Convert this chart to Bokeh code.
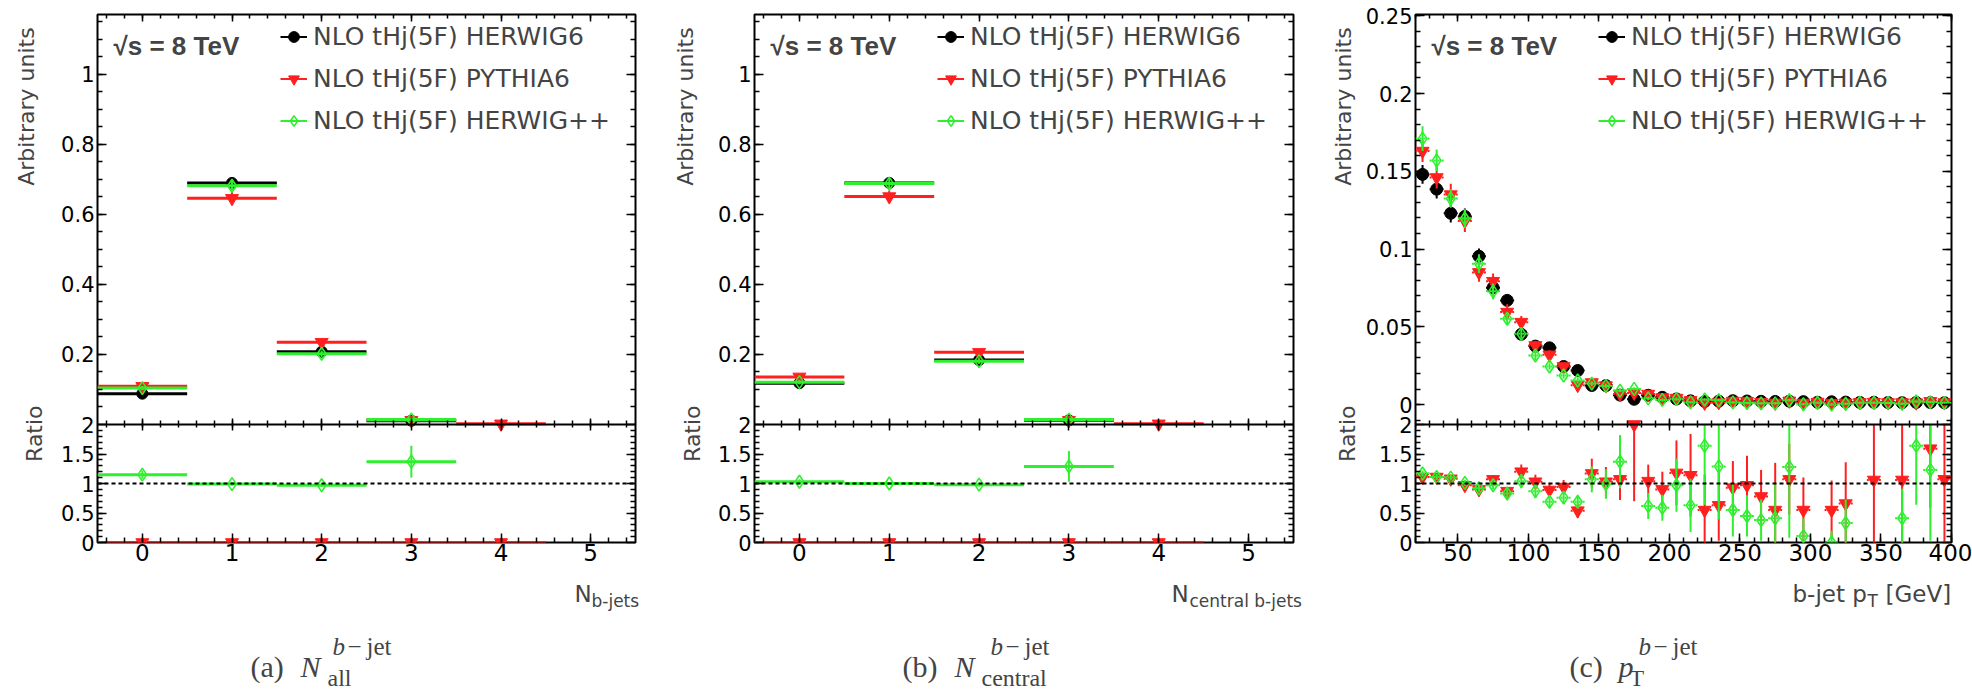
import numpy as np
from bokeh.plotting import figure
from bokeh.models import (Range1d, LinearAxis, FixedTicker, Span, Label, Legend,
                          LegendItem, ColumnDataSource, CustomJSTickFormatter)
from bokeh.layouts import row, column
from bokeh.embed import file_html
from bokeh.resources import INLINE

NAN = float("nan")

# ---------------- data ----------------
generators = ["NLO tHj(5F) HERWIG6", "NLO tHj(5F) PYTHIA6", "NLO tHj(5F) HERWIG++"]
energy_text = "√s = 8 TeV"

# (a) number of b-jets
nbjet_bins = [0, 1, 2, 3, 4, 5]
a_herwig6 = [0.088, 0.690, 0.208, 0.011, NAN, NAN]
a_herwig6_err = [0.006, 0.016, 0.009, 0.003, NAN, NAN]
a_pythia6 = [0.109, 0.646, 0.235, 0.012, 0.002, NAN]
a_pythia6_err = [0.007, 0.017, 0.010, 0.003, 0.001, NAN]
a_herwigpp = [0.104, 0.682, 0.202, 0.014, NAN, NAN]
a_herwigpp_err = [0.006, 0.016, 0.009, 0.003, NAN, NAN]
a_ratio_pythia6 = [0.0, 0.0, 0.0, 0.0, 0.0, NAN]
a_ratio_pythia6_err = [0.0, 0.0, 0.0, 0.0, 0.0, NAN]
a_ratio_herwigpp = [1.15, 0.99, 0.97, 1.37, NAN, NAN]
a_ratio_herwigpp_err = [0.07, 0.03, 0.03, 0.27, NAN, NAN]

# (b) number of central b-jets
b_herwig6 = [0.118, 0.690, 0.184, 0.012, NAN, NAN]
b_herwig6_err = [0.006, 0.016, 0.008, 0.003, NAN, NAN]
b_pythia6 = [0.136, 0.651, 0.206, 0.012, 0.002, NAN]
b_pythia6_err = [0.007, 0.017, 0.009, 0.003, 0.001, NAN]
b_herwigpp = [0.121, 0.688, 0.181, 0.014, NAN, NAN]
b_herwigpp_err = [0.006, 0.016, 0.008, 0.003, NAN, NAN]
b_ratio_pythia6 = [0.0, 0.0, 0.0, 0.0, 0.0, NAN]
b_ratio_pythia6_err = [0.0, 0.0, 0.0, 0.0, 0.0, NAN]
b_ratio_herwigpp = [1.03, 1.00, 0.98, 1.29, NAN, NAN]
b_ratio_herwigpp_err = [0.04, 0.02, 0.03, 0.26, NAN, NAN]

# (c) b-jet pT
pt_bins = [25, 35, 45, 55, 65, 75, 85, 95, 105, 115, 125, 135, 145, 155, 165, 175, 185, 195, 205,
           215, 225, 235, 245, 255, 265, 275, 285, 295, 305, 315, 325, 335, 345, 355, 365, 375, 385, 395]
c_herwig6 = [0.148, 0.1385, 0.123, 0.121, 0.0954, 0.0752, 0.067, 0.0452, 0.0376, 0.0365, 0.0245, 0.0219,
             0.0123, 0.0122, 0.0061, 0.0034, 0.0060, 0.0047, 0.0036,
             0.0024, 0.0020, 0.0022, 0.0025, 0.0023, 0.0021, 0.0020, 0.0022, 0.0019, 0.0015, 0.0018,
             0.0016, 0.0014, 0.0015, 0.0013, 0.0012, 0.0014, 0.0013, 0.0012]
c_herwig6_err = [0.006, 0.006, 0.006, 0.005, 0.005, 0.004, 0.004, 0.003, 0.003, 0.003, 0.002, 0.002,
                 0.0015, 0.0015, 0.001, 0.001, 0.001, 0.001, 0.001] + [0.0008] * 19
c_pythia6 = [0.163, 0.146, 0.135, 0.118, 0.085, 0.0793, 0.0595, 0.053, 0.038, 0.032, 0.0245, 0.0125,
             0.0142, 0.0122, 0.0068, 0.0075, 0.0068, 0.0045, 0.0042,
             0.0027, 0.0011, 0.0014, 0.0023, 0.0022, 0.0016, 0.0011, 0.0024, 0.0010, 0.0016, 0.0010,
             0.0011, 0.0014, 0.0016, 0.0013, 0.0013, 0.0012, 0.0021, 0.0013]
c_pythia6_err = [0.007, 0.007, 0.007, 0.007, 0.006, 0.005, 0.005, 0.004, 0.003, 0.003, 0.002, 0.002,
                 0.0015, 0.0015, 0.001, 0.001, 0.001, 0.001, 0.001] + [0.0008] * 19
c_herwigpp = [0.171, 0.157, 0.1325, 0.1196, 0.0906, 0.0728, 0.0552, 0.0455, 0.0316, 0.0245, 0.0187, 0.0155,
              0.0135, 0.0120, 0.0090, 0.0101, 0.0040, 0.0030, 0.0035,
              0.0015, 0.0033, 0.0028, 0.0014, 0.0010, 0.0008, 0.0008, 0.0028, 0.0002, 0.0012, 0.0000,
              0.0005, 0.0012, 0.0012, 0.0011, 0.0005, 0.0020, 0.0016, 0.0011]
c_herwigpp_err = [0.008, 0.007, 0.006, 0.006, 0.006, 0.005, 0.004, 0.003, 0.003, 0.002, 0.002, 0.002,
                  0.0015, 0.0015, 0.001, 0.001, 0.001, 0.001, 0.001] + [0.0008] * 19
c_ratio_pythia6 = [1.11, 1.11, 1.08, 0.97, 0.90, 1.07, 0.87, 1.20, 1.03, 0.89, 0.94, 0.54, 1.17, 1.03,
                   1.07, 2.00, 1.04, 0.90, 1.18,
                   1.14, 0.55, 0.63, 0.93, 0.97, 0.78, 0.55, 1.07, 0.55, NAN, 0.55, 0.66, NAN, 1.06,
                   NAN, 1.06, NAN, 1.59, 1.07]
c_ratio_pythia6_err = [0.05, 0.05, 0.05, 0.05, 0.06, 0.07, 0.07, 0.12, 0.12, 0.12, 0.12, 0.12, 0.25,
                       0.25, 0.35, 1.30, 0.28, 0.30, 0.55,
                       0.70, 0.60, 0.60, 0.45, 0.50, 0.45, 0.80, 0.60, 0.55, NAN, 0.50, 0.70, NAN,
                       1.20, NAN, 1.20, NAN, 1.00, 1.20]
c_ratio_herwigpp = [1.17, 1.11, 1.10, 1.01, 0.92, 0.97, 0.83, 1.04, 0.87, 0.69, 0.76, 0.69, 1.07, 0.99,
                    1.37, NAN, 0.62, 0.59, 0.97,
                    0.63, 1.64, 1.29, 0.55, 0.45, 0.38, 0.41, 1.28, 0.11, NAN, 0.00, 0.33, NAN, NAN,
                    NAN, 0.41, 1.64, 1.23, NAN]
c_ratio_herwigpp_err = [0.05, 0.05, 0.05, 0.05, 0.06, 0.07, 0.08, 0.12, 0.12, 0.10, 0.10, 0.10, 0.22,
                        0.25, 0.45, NAN, 0.22, 0.22, 0.45,
                        0.45, 1.00, 0.90, 0.45, 0.35, 0.35, 0.60, 1.20, 0.30, NAN, 0.20, 0.40, NAN,
                        NAN, NAN, 0.50, 1.00, 1.20, NAN]

# ---------------- styling ----------------
BLACK = "#000000"
RED = "#ff1f1f"
GREEN = "#2ef02e"
SANS = "DejaVu Sans"
BOLD_SANS = "Liberation Sans"
SERIF = "Liberation Serif"

W_TOTAL, H_TOTAL = 1972, 692
MAIN_TOP, MAIN_BOT, RATIO_BOT = 14, 424, 542
PANEL_BOT = 574          # bottom of the pad area (below the x tick labels)
RATIO_MAX = 2.0


def style_axis(ax, ticks, minor, major_in, minor_in, labels=True, font_size="21px", standoff=3,
               formatter=None, major_out=0, minor_out=0):
    ax.ticker = FixedTicker(ticks=list(ticks), minor_ticks=list(minor))
    ax.major_tick_in = major_in
    ax.major_tick_out = major_out
    ax.minor_tick_in = minor_in
    ax.minor_tick_out = minor_out
    ax.major_tick_line_width = 1.5
    ax.minor_tick_line_width = 1.5
    ax.major_tick_line_color = "black"
    ax.minor_tick_line_color = "black"
    ax.axis_line_color = None
    ax.axis_label = None
    if labels:
        ax.formatter = formatter or CustomJSTickFormatter(
            code="return String(Math.round(tick*1000)/1000);")
        ax.major_label_text_font = SANS
        ax.major_label_text_font_size = font_size
        ax.major_label_text_color = "black"
        ax.major_label_standoff = standoff
    else:
        ax.formatter = CustomJSTickFormatter(code="return '';")
        ax.major_label_text_font_size = "0px"
        ax.major_label_standoff = 0


def draw_series(p, x, y, err, halfw, color, marker, size, hollow, hdash, hwidth,
                range_name="default", cap=None):
    x = np.asarray(x, dtype=float)
    y = np.asarray(y, dtype=float)
    e = np.asarray(err, dtype=float)
    hi = y + e
    if cap is not None:            # the ratio pad clips at its upper edge
        hi = np.minimum(hi, cap)
    src = ColumnDataSource(dict(x=x, y=y, lo=y - e, hi=hi, xl=x - halfw, xr=x + halfw))
    hb = p.segment(x0="xl", y0="y", x1="xr", y1="y", source=src, line_color=color,
                   line_width=hwidth, line_dash=hdash, y_range_name=range_name)
    vb = p.segment(x0="x", y0="lo", x1="x", y1="hi", source=src, line_color=color, line_width=2,
                   y_range_name=range_name)
    if hollow:
        sc = p.scatter("x", "y", source=src, marker=marker, size=size, fill_alpha=0,
                       line_color=color, line_width=1.6, y_range_name=range_name)
    else:
        sc = p.scatter("x", "y", source=src, marker=marker, size=size, fill_color=color,
                       line_color=color, line_width=1, y_range_name=range_name)
    return hb, vb, sc


def text_figure(width, height):
    f = figure(width=width, height=height, x_range=Range1d(0, width), y_range=Range1d(0, height),
               output_backend="svg", toolbar_location=None, min_border=0,
               x_axis_location=None, y_axis_location=None)
    f.xgrid.visible = False
    f.ygrid.visible = False
    f.outline_line_color = None
    f.background_fill_color = "white"
    f.border_fill_color = "white"
    return f


ratio_ticks = [0, 0.5, 1, 1.5, 2]
ratio_minor = [round(0.1 * i, 2) for i in range(1, 20)]


def make_panel(cfg):
    x0c, width = cfg["canvas"]
    lw = cfg["left_w"]
    fl, fr = cfg["frame"]
    xr = cfg["xrange"]
    bnd, y_hi = cfg["yrange"]          # main-pad range: bottom edge (= pad boundary) and top

    units_per_px = (y_hi - bnd) / (MAIN_BOT - MAIN_TOP)
    y_lo = bnd - (RATIO_BOT - MAIN_BOT) * units_per_px        # frame bottom in main units
    r_top = RATIO_MAX * (RATIO_BOT - MAIN_TOP) / (RATIO_BOT - MAIN_BOT)

    def rpos(v):                      # ratio value -> main-axis units
        return y_lo + v / RATIO_MAX * (bnd - y_lo)

    def gx(px):
        return xr[0] + (px - fl) / (fr - fl) * (xr[1] - xr[0])

    def gy_main(py):
        return y_hi - (py - MAIN_TOP) * units_per_px

    pad_w = width - lw
    p = figure(width=pad_w, height=PANEL_BOT, x_range=Range1d(*xr), y_range=Range1d(y_lo, y_hi),
               output_backend="svg", toolbar_location=None,
               min_border_left=fl - (x0c + lw), min_border_right=x0c + width - fr,
               min_border_top=MAIN_TOP, min_border_bottom=PANEL_BOT - RATIO_BOT)
    p.extra_y_ranges = {"ratio": Range1d(0, r_top)}
    p.xgrid.visible = False
    p.ygrid.visible = False
    p.outline_line_color = "black"
    p.outline_line_width = 2
    p.background_fill_color = "white"
    p.border_fill_color = "white"

    # y axes: upper pad in its own units, lower (ratio) pad labelled as ratio values
    yt = list(cfg["main_yticks"]) + [rpos(v) for v in ratio_ticks]
    ym = list(cfg["main_yminor"]) + [rpos(v) for v in ratio_minor]
    yfmt = CustomJSTickFormatter(args=dict(b=bnd, lo=y_lo), code="""
        if (tick <= b + 1e-9) {
            const r = (tick - lo) / (b - lo) * 2;
            return String(Math.round(r * 100) / 100);
        }
        return String(Math.round(tick * 1000) / 1000);
    """)
    style_axis(p.yaxis[0], yt, ym, 9, 5, True, "21px", 3, formatter=yfmt)
    ax_r = LinearAxis()
    style_axis(ax_r, yt, ym, 9, 5, False)
    p.add_layout(ax_r, "right")

    # x axes: bottom (labelled), top, and the shared edge between the two pads
    style_axis(p.xaxis[0], cfg["xticks"], cfg["xminor"], 9, 5, True, "23px", 1)
    ax_t = LinearAxis()
    style_axis(ax_t, cfg["xticks"], cfg["xminor"], 7, 4, False)
    p.add_layout(ax_t, "above")
    ax_mid = LinearAxis(fixed_location=bnd)
    style_axis(ax_mid, cfg["xticks"], cfg["xminor"], 6, 4, False, major_out=6, minor_out=3)
    p.add_layout(ax_mid, "below")
    p.add_layout(Span(location=bnd, dimension="width", line_color="black", line_width=2))

    # upper pad
    items = []
    for (vals, errs, color, marker, size, hollow) in cfg["main_series"]:
        items.append(draw_series(p, cfg["x"], vals, errs, cfg["halfw"], color, marker, size,
                                 hollow, cfg["hdash"], cfg["hwidth"]))

    # ratio pad
    p.add_layout(Span(location=1.0, dimension="width", line_color="black", line_width=2,
                      line_dash="4 3", y_range_name="ratio"))
    for (vals, errs, color, marker, size, hollow) in cfg["ratio_series"]:
        draw_series(p, cfg["x"], vals, errs, cfg["halfw"], color, marker, size, hollow,
                    cfg["hdash"], cfg["hwidth"], range_name="ratio", cap=RATIO_MAX)

    legend = Legend(items=[LegendItem(label=generators[i], renderers=[items[i][1], items[i][2]])
                           for i in range(3)],
                    location=(183, 289 + RATIO_BOT - MAIN_BOT), orientation="vertical",
                    label_text_font=SANS, label_text_font_size="25px",
                    label_height=29, glyph_height=29, glyph_width=27, spacing=13,
                    label_standoff=6, padding=0, margin=0,
                    border_line_color=None, background_fill_alpha=0)
    p.add_layout(legend)

    p.add_layout(Label(x=gx(fl + 16), y=gy_main(45), text=energy_text, text_font=BOLD_SANS,
                       text_font_style="bold", text_font_size="26px",
                       text_baseline="alphabetic", text_align="left"))

    # left strip with the vertical axis titles
    lf = text_figure(lw, PANEL_BOT)
    lf.add_layout(Label(x=cfg["ytitle_x"], y=PANEL_BOT - MAIN_TOP, text="Arbitrary units",
                        angle=np.pi / 2, text_align="right", text_baseline="middle",
                        text_font=SANS, text_font_size="22px"))
    lf.add_layout(Label(x=cfg["rtitle_x"], y=PANEL_BOT - (MAIN_BOT + 1), text="Ratio",
                        angle=np.pi / 2, text_align="right", text_baseline="middle",
                        text_font=SANS, text_font_size="22px"))

    return row(lf, p, spacing=0)


count_xticks = [0, 1, 2, 3, 4, 5]
count_xminor = [round(-0.4 + 0.2 * i, 2) for i in range(30)]
frac_yticks = [0.2, 0.4, 0.6, 0.8, 1.0]
frac_yminor = [round(0.05 * i, 2) for i in range(1, 24)]


def count_series(h6, h6e, p6, p6e, hpp, hppe):
    return [(h6, h6e, BLACK, "circle", 11, False),
            (p6, p6e, RED, "inverted_triangle", 13, False),
            (hpp, hppe, GREEN, "diamond", 13, True)]


cfg_a = dict(
    canvas=(0, 657), left_w=50, frame=(97, 635), xrange=(-0.5, 5.5), yrange=(0.0, 1.171),
    x=nbjet_bins, halfw=0.5, hdash="solid", hwidth=3,
    xticks=count_xticks, xminor=count_xminor,
    main_yticks=frac_yticks, main_yminor=frac_yminor,
    main_series=count_series(a_herwig6, a_herwig6_err, a_pythia6, a_pythia6_err,
                             a_herwigpp, a_herwigpp_err),
    ratio_series=[(a_ratio_pythia6, a_ratio_pythia6_err, RED, "inverted_triangle", 13, False),
                  (a_ratio_herwigpp, a_ratio_herwigpp_err, GREEN, "diamond", 13, True)],
    ytitle_x=26, rtitle_x=34,
)

cfg_b = dict(
    canvas=(657, 657), left_w=50, frame=(754, 1293), xrange=(-0.5, 5.5), yrange=(0.0, 1.171),
    x=nbjet_bins, halfw=0.5, hdash="solid", hwidth=3,
    xticks=count_xticks, xminor=count_xminor,
    main_yticks=frac_yticks, main_yminor=frac_yminor,
    main_series=count_series(b_herwig6, b_herwig6_err, b_pythia6, b_pythia6_err,
                             b_herwigpp, b_herwigpp_err),
    ratio_series=[(b_ratio_pythia6, b_ratio_pythia6_err, RED, "inverted_triangle", 13, False),
                  (b_ratio_herwigpp, b_ratio_herwigpp_err, GREEN, "diamond", 13, True)],
    ytitle_x=28, rtitle_x=35,
)

cfg_c = dict(
    canvas=(1314, 658), left_w=48, frame=(1412, 1951), xrange=(20, 400), yrange=(-0.0128, 0.2508),
    x=pt_bins, halfw=5, hdash="2 2", hwidth=2,
    xticks=[50, 100, 150, 200, 250, 300, 350, 400], xminor=list(range(20, 401, 10)),
    main_yticks=[0, 0.05, 0.1, 0.15, 0.2, 0.25],
    main_yminor=[round(-0.01 + 0.01 * i, 2) for i in range(27)],
    main_series=[(c_herwig6, c_herwig6_err, BLACK, "circle", 12, False),
                 (c_pythia6, c_pythia6_err, RED, "inverted_triangle", 13, False),
                 (c_herwigpp, c_herwigpp_err, GREEN, "diamond", 13, True)],
    ratio_series=[(c_ratio_pythia6, c_ratio_pythia6_err, RED, "inverted_triangle", 13, False),
                  (c_ratio_herwigpp, c_ratio_herwigpp_err, GREEN, "diamond", 13, True)],
    ytitle_x=29, rtitle_x=33,
)

# ---------- bottom strip: x-axis titles and sub-figure captions ----------
BOT_H = H_TOTAL - PANEL_BOT
bottom = text_figure(W_TOTAL, BOT_H)


def put(txt, px, py, font, size, style="normal"):
    bottom.add_layout(Label(x=px, y=H_TOTAL - py, text=txt, text_align="left",
                            text_baseline="alphabetic", text_font=font, text_font_size=size,
                            text_font_style=style))


# x-axis titles (with subscripts)
put("N", 574, 593, SANS, "23px")
put("b-jets", 591, 600, SANS, "17px")
put("N", 1171, 593, SANS, "23px")
put("central b-jets", 1189, 600, SANS, "17px")
put("b-jet p", 1792, 593, SANS, "23px")
put("T", 1867, 600, SANS, "17px")
put("[GeV]", 1885, 593, SANS, "23px")

# captions: (label, symbol, subscript, x of label, x of symbol, x of superscript, x of subscript)
captions = [
    ("(a)", "N", "all", 250, 300, 332, 327),
    ("(b)", "N", "central", 902, 954, 990, 981),
    ("(c)", "p", "T", 1569, 1618, 1638, 1629),
]
for lab, sym, sub, x_lab, x_sym, x_sup, x_sub in captions:
    put(lab, x_lab, 666, SERIF, "30px")
    put(sym, x_sym, 666, SERIF, "30px", "italic")
    put("b", x_sup, 646, SERIF, "25px", "italic")
    put("−", x_sup + 15, 646, SERIF, "25px")
    put("jet", x_sup + 34, 646, SERIF, "25px")
    put(sub, x_sub, 677, SERIF, "24px")

layout = column(row(make_panel(cfg_a), make_panel(cfg_b), make_panel(cfg_c), spacing=0),
                bottom, spacing=0)

open("out.html", "w").write(file_html(layout, INLINE))
